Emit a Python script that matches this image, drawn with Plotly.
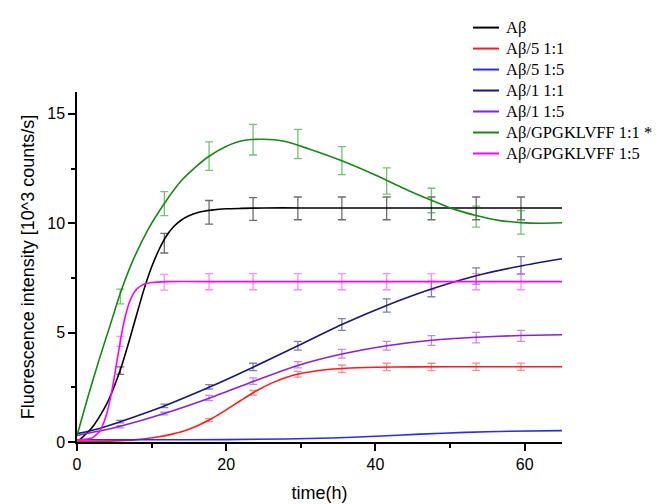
import plotly.graph_objects as go

# ---- data ----
T_DATA = [5.8, 11.7, 17.7, 23.6, 29.6, 35.5, 41.5, 47.5, 53.5, 59.5]

series_names = ["Aβ", "Aβ/5 1:1", "Aβ/5 1:5", "Aβ/1 1:1", "Aβ/1 1:5",
                "Aβ/GPGKLVFF 1:1 *", "Aβ/GPGKLVFF 1:5"]

# fitted curves
abeta_ct = [0.3, 1, 2, 3, 4, 5, 6, 7, 8, 9, 10, 11, 12, 13, 14, 15, 16, 17, 18, 20, 22, 25, 30, 40, 50, 65]
abeta_cv = [0.08, 0.3, 0.65, 1.15, 1.75, 2.55, 3.5, 4.63, 5.83, 7.0, 8.0, 8.8, 9.43, 9.86, 10.15, 10.34, 10.47, 10.55, 10.6, 10.66, 10.68, 10.7, 10.7, 10.7, 10.7, 10.7]

a5_11_ct = [0, 5, 8, 11, 14, 16, 18, 20, 22, 24, 26, 28, 30, 33, 36, 40, 45, 55, 65]
a5_11_cv = [0.02, 0.05, 0.11, 0.24, 0.47, 0.72, 1.06, 1.47, 1.91, 2.33, 2.68, 2.95, 3.13, 3.29, 3.37, 3.415, 3.433, 3.44, 3.44]

a5_15_ct = [0, 10, 20, 28, 34, 40, 46, 52, 58, 65]
a5_15_cv = [0.1, 0.1, 0.11, 0.14, 0.18, 0.26, 0.36, 0.44, 0.49, 0.52]

a1_11_ct = [0, 3, 5.8, 11.7, 17.7, 23.6, 29.6, 35.5, 41.5, 47.5, 53.5, 59.5, 65]
a1_11_cv = [0.38, 0.62, 0.93, 1.65, 2.5, 3.42, 4.4, 5.37, 6.24, 6.99, 7.6, 8.05, 8.38]

a1_15_ct = [0, 3, 5.8, 11.7, 17.7, 23.6, 29.6, 35.5, 41.5, 47.5, 53.5, 59.5, 65]
a1_15_cv = [0.3, 0.5, 0.72, 1.3, 2.0, 2.77, 3.5, 4.02, 4.4, 4.65, 4.79, 4.87, 4.9]

gp_11_ct = [0, 1.5, 3, 4.5, 5.7, 7.5, 9.5, 11.8, 14, 16, 17.6, 19.9, 22.1, 24.9, 27.8, 30.9, 35.4, 39.9, 44.4, 47.5, 50.2, 53.5, 56.5, 59.5, 62, 65]
gp_11_cv = [0.3, 2.1, 3.8, 5.4, 6.7, 8.3, 9.7, 10.95, 11.95, 12.6, 13.04, 13.5, 13.77, 13.84, 13.75, 13.42, 12.87, 12.22, 11.5, 11.05, 10.68, 10.35, 10.13, 10.03, 10.0, 10.02]

gp_15_ct = [0, 1, 2, 3, 3.5, 4, 4.5, 5, 5.5, 6, 6.5, 7, 7.5, 8, 9, 10, 12, 20, 40, 65]
gp_15_cv = [0.1, 0.12, 0.18, 0.48, 0.81, 1.31, 2.04, 2.97, 4.0, 4.98, 5.78, 6.37, 6.75, 6.99, 7.22, 7.29, 7.33, 7.33, 7.33, 7.33]

# measured points with error bars
abeta_y = [3.26, 9.09, 10.5, 10.65, 10.68, 10.68, 10.68, 10.68, 10.68, 10.68]
abeta_e = [0.17, 0.45, 0.54, 0.52, 0.52, 0.52, 0.52, 0.52, 0.52, 0.52]

a5_11_t = [17.7, 23.6, 29.6, 35.5, 41.5, 47.5, 53.5, 59.5]
a5_11_y = [1.0, 2.25, 3.1, 3.35, 3.43, 3.43, 3.44, 3.44]
a5_11_e = [0.07, 0.11, 0.13, 0.17, 0.17, 0.17, 0.17, 0.17]

a1_11_y = [0.93, 1.65, 2.52, 3.43, 4.4, 5.37, 6.24, 6.99, 7.59, 8.07]
a1_11_e = [0.06, 0.08, 0.1, 0.17, 0.2, 0.27, 0.3, 0.35, 0.37, 0.4]

a1_15_y = [0.7, 1.3, 2.01, 2.78, 3.53, 4.03, 4.4, 4.64, 4.77, 4.85]
a1_15_e = [0.05, 0.06, 0.12, 0.15, 0.14, 0.2, 0.2, 0.22, 0.24, 0.25]

gp_11_y = [6.65, 10.9, 13.07, 13.82, 13.62, 12.86, 11.93, 11.04, 10.3, 10.04]
gp_11_e = [0.34, 0.55, 0.65, 0.7, 0.67, 0.64, 0.6, 0.56, 0.48, 0.54]

gp_15_y = [4.6, 7.3, 7.33, 7.33, 7.33, 7.33, 7.33, 7.33, 7.33, 7.33]
gp_15_e = [0.23, 0.36, 0.37, 0.37, 0.37, 0.37, 0.37, 0.37, 0.37, 0.37]

line_colors = ["#000000", "#ff1a1a", "#2a2aff", "#17177f", "#8a1ee8", "#148a14", "#ff00ff"]
bar_colors = ["rgba(60,60,60,0.75)", "rgba(255,60,60,0.6)", "rgba(40,40,255,0.6)",
              "rgba(40,40,140,0.6)", "rgba(150,60,240,0.6)", "rgba(40,160,40,0.65)",
              "rgba(255,60,255,0.6)"]

curves = [(abeta_ct, abeta_cv), (a5_11_ct, a5_11_cv), (a5_15_ct, a5_15_cv),
          (a1_11_ct, a1_11_cv), (a1_15_ct, a1_15_cv), (gp_11_ct, gp_11_cv),
          (gp_15_ct, gp_15_cv)]
points = [(T_DATA, abeta_y, abeta_e), (a5_11_t, a5_11_y, a5_11_e), None,
          (T_DATA, a1_11_y, a1_11_e), (T_DATA, a1_15_y, a1_15_e),
          (T_DATA, gp_11_y, gp_11_e), (T_DATA, gp_15_y, gp_15_e)]

W, H = 666, 504
ML, MR, MT, MB = 69, 112, 84, 63
PW, PH = W - ML - MR, H - MT - MB

fig = go.Figure()
for i, name in enumerate(series_names):
    p = points[i]
    if p is not None:
        fig.add_trace(go.Scatter(
            x=p[0], y=p[1], mode="markers", showlegend=False, hoverinfo="skip",
            marker=dict(size=1, color="rgba(0,0,0,0)"),
            error_y=dict(type="data", array=p[2], visible=True,
                         color=bar_colors[i], thickness=1.3, width=4)))
for i, name in enumerate(series_names):
    ct, cv = curves[i]
    fig.add_trace(go.Scatter(
        x=ct, y=cv, mode="lines", name=name, showlegend=False,
        line=dict(color=line_colors[i], width=1.6, shape="spline", smoothing=0.6)))

# legend drawn in paper coordinates (pixel layout converted to paper fractions)
def px_x(px):
    return (px - ML) / PW

def px_y(py):
    return (H - MB - py) / PH

leg_top, leg_step = 18.3, 21.4
for i, name in enumerate(series_names):
    yy = px_y(leg_top + i * leg_step)
    fig.add_shape(type="line", xref="paper", yref="paper",
                  x0=px_x(465), x1=px_x(491), y0=yy, y1=yy,
                  line=dict(color=line_colors[i], width=2))
    fig.add_annotation(xref="paper", yref="paper", x=px_x(496), y=yy,
                       xanchor="left", yanchor="middle", showarrow=False,
                       text=name,
                       font=dict(family="Liberation Serif, Times New Roman, serif",
                                 size=16.5, color="black"))

fig.update_layout(
    width=W, height=H,
    margin=dict(l=ML, r=MR, t=MT, b=MB),
    paper_bgcolor="white", plot_bgcolor="white",
    showlegend=False,
    font=dict(family="Liberation Sans, Arial, sans-serif", size=16, color="black"),
    xaxis=dict(range=[0, 65], dtick=20, tick0=0, showgrid=False, zeroline=False,
               showline=True, linecolor="black", linewidth=1.5,
               ticks="outside", ticklen=7, tickwidth=1.5, tickcolor="black",
               minor=dict(ticks="outside", dtick=10, ticklen=4, tickwidth=1.5, tickcolor="black"),
               title=dict(text="time(h)", font=dict(size=18), standoff=14)),
    yaxis=dict(range=[0, 16], dtick=5, tick0=0, showgrid=False, zeroline=False,
               showline=True, linecolor="black", linewidth=1.5,
               ticks="outside", ticklen=7, tickwidth=1.5, tickcolor="black",
               minor=dict(ticks="outside", dtick=2.5, ticklen=4, tickwidth=1.5, tickcolor="black"),
               title=dict(text="Fluorescence intensity [10^3 counts/s]", font=dict(size=18), standoff=8)),
)

fig.write_html("out.html")
